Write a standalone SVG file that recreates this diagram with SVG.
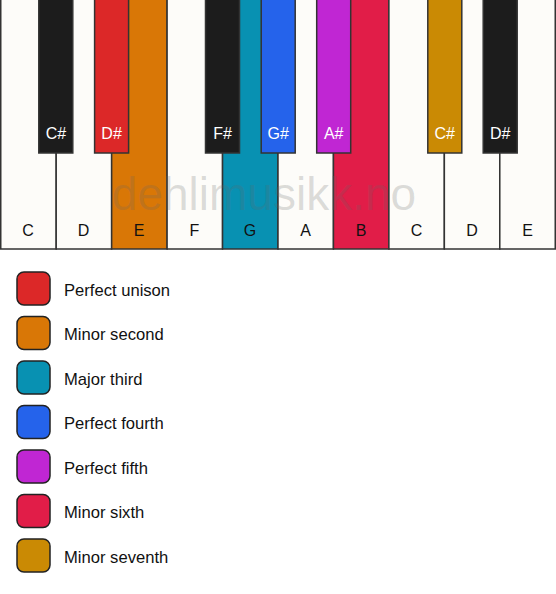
<svg xmlns="http://www.w3.org/2000/svg" width="556" height="594" viewBox="0 0 556 594">
<style>
.w{fill:#fdfcf9;stroke:#333;stroke-width:1.5}
.b{stroke:#333;stroke-width:1.5}
.lw{font-family:"Liberation Sans",Arial,sans-serif;font-size:16px;fill:#111;text-anchor:middle}
.lb{font-family:"Liberation Sans",Arial,sans-serif;font-size:16px;fill:#fff;text-anchor:middle}
.sw{stroke:#222;stroke-width:1.5}
.lt{font-family:"Liberation Sans",Arial,sans-serif;font-size:16.6px;fill:#111}
.wm{font-family:"Liberation Sans",Arial,sans-serif;font-size:46px;fill:#666;fill-opacity:0.22;text-anchor:middle}
</style>
<rect width="556" height="594" fill="#fff"/>
<g id="white-keys">
<g id="key-C1"><rect class="w" x="0.75" y="-2" width="55.45" height="251"/><text class="lw" x="28" y="236">C</text></g>
<g id="key-D1"><rect class="w" x="56.2" y="-2" width="55.45" height="251"/><text class="lw" x="83.5" y="236">D</text></g>
<g id="key-E1"><rect class="w" x="111.65" y="-2" width="55.45" height="251" style="fill:#d97706"/><text class="lw" x="139" y="236">E</text></g>
<g id="key-F1"><rect class="w" x="167.1" y="-2" width="55.45" height="251"/><text class="lw" x="194.5" y="236">F</text></g>
<g id="key-G1"><rect class="w" x="222.55" y="-2" width="55.45" height="251" style="fill:#0891b2"/><text class="lw" x="250" y="236">G</text></g>
<g id="key-A1"><rect class="w" x="278" y="-2" width="55.45" height="251"/><text class="lw" x="305.5" y="236">A</text></g>
<g id="key-B1"><rect class="w" x="333.45" y="-2" width="55.45" height="251" style="fill:#e11d48"/><text class="lw" x="361" y="236">B</text></g>
<g id="key-C2"><rect class="w" x="388.9" y="-2" width="55.45" height="251"/><text class="lw" x="416.5" y="236">C</text></g>
<g id="key-D2"><rect class="w" x="444.35" y="-2" width="55.45" height="251"/><text class="lw" x="472" y="236">D</text></g>
<g id="key-E2"><rect class="w" x="499.8" y="-2" width="55.45" height="251"/><text class="lw" x="527.5" y="236">E</text></g>
</g>
<text class="wm" x="264" y="210">dehlimusikk.no</text>
<g id="black-keys">
<g id="key-Cs1"><rect class="b" x="38.8" y="-2" width="34" height="155" fill="#1c1c1c"/><text class="lb" x="56" y="139">C#</text></g>
<g id="key-Ds1"><rect class="b" x="94.6" y="-2" width="34" height="155" fill="#dc2828"/><text class="lb" x="111.6" y="139">D#</text></g>
<g id="key-Fs1"><rect class="b" x="205.5" y="-2" width="34" height="155" fill="#1c1c1c"/><text class="lb" x="222.5" y="139">F#</text></g>
<g id="key-Gs1"><rect class="b" x="261.2" y="-2" width="34" height="155" fill="#2563eb"/><text class="lb" x="278.2" y="139">G#</text></g>
<g id="key-As1"><rect class="b" x="316.7" y="-2" width="34" height="155" fill="#c026d3"/><text class="lb" x="333.7" y="139">A#</text></g>
<g id="key-Cs2"><rect class="b" x="427.8" y="-2" width="34" height="155" fill="#ca8a04"/><text class="lb" x="444.8" y="139">C#</text></g>
<g id="key-Ds2"><rect class="b" x="483.2" y="-2" width="34" height="155" fill="#1c1c1c"/><text class="lb" x="500.2" y="139">D#</text></g>
</g>
<g id="legend">
<g id="leg-1"><rect class="sw" x="17" y="272" width="33" height="33" rx="7" fill="#dc2828"/><text class="lt" x="64" y="295.5">Perfect unison</text></g>
<g id="leg-2"><rect class="sw" x="17" y="316.5" width="33" height="33" rx="7" fill="#d97706"/><text class="lt" x="64" y="340">Minor second</text></g>
<g id="leg-3"><rect class="sw" x="17" y="361" width="33" height="33" rx="7" fill="#0891b2"/><text class="lt" x="64" y="384.5">Major third</text></g>
<g id="leg-4"><rect class="sw" x="17" y="405.5" width="33" height="33" rx="7" fill="#2563eb"/><text class="lt" x="64" y="429">Perfect fourth</text></g>
<g id="leg-5"><rect class="sw" x="17" y="450" width="33" height="33" rx="7" fill="#c026d3"/><text class="lt" x="64" y="473.5">Perfect fifth</text></g>
<g id="leg-6"><rect class="sw" x="17" y="494.5" width="33" height="33" rx="7" fill="#e11d48"/><text class="lt" x="64" y="518">Minor sixth</text></g>
<g id="leg-7"><rect class="sw" x="17" y="539" width="33" height="33" rx="7" fill="#ca8a04"/><text class="lt" x="64" y="562.5">Minor seventh</text></g>
</g>
</svg>
